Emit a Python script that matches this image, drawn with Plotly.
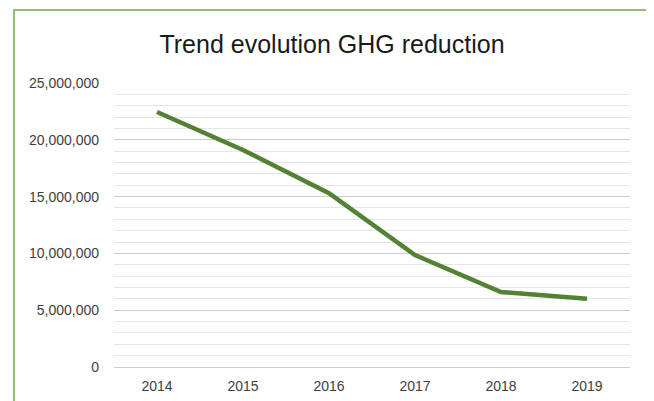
import plotly.graph_objects as go

years = ["2014", "2015", "2016", "2017", "2018", "2019"]
ghg_reduction = [22450000, 19100000, 15300000, 9850000, 6600000, 6000000]
y_ticks = [0, 5000000, 10000000, 15000000, 20000000, 25000000]
y_tick_labels = ["0", "5,000,000", "10,000,000", "15,000,000", "20,000,000", "25,000,000"]

fig = go.Figure()
fig.add_trace(go.Scatter(
    x=years, y=ghg_reduction, mode="lines",
    line=dict(color="#548235", width=4.5, shape="linear"),
    hoverinfo="x+y", showlegend=False,
))

font_family = "Liberation Sans, Arial, sans-serif"

# page body has an 8px default margin; the figure is sized to fill the rest of the window
W, H = 646, 393
fig.update_layout(
    width=W, height=H,
    margin=dict(l=106, r=24, t=75, b=34, autoexpand=False),
    paper_bgcolor="white", plot_bgcolor="white",
    title=dict(text="Trend evolution GHG reduction", x=(332-8)/W, xanchor="center",
               y=1-(44-8)/H, yanchor="middle",
               font=dict(family=font_family, size=25, color="#1a1a1a")),
    xaxis=dict(type="category", range=[-0.5, 5.5], showgrid=False, zeroline=False,
               showline=False, ticks="", ticklabelstandoff=9, automargin=False,
               tickfont=dict(family=font_family, size=14, color="#404040")),
    yaxis=dict(range=[0, 25000000], tickvals=y_ticks, ticktext=y_tick_labels,
               showgrid=True, gridcolor="#cccccc", gridwidth=1,
               zeroline=True, zerolinecolor="#cccccc", zerolinewidth=1,
               showline=False, ticks="", ticklabelstandoff=14, automargin=False,
               tickfont=dict(family=font_family, size=14, color="#404040"),
               minor=dict(dtick=1000000, showgrid=True, gridcolor="#e6e6e6", gridwidth=1)),
    shapes=[dict(type="rect", xref="paper", yref="paper",
                 x0=(14-114)/516, x1=(649-114)/516,
                 y0=(367-404)/284, y1=(367-10)/284,
                 line=dict(color="#70ad47", width=1.5), fillcolor="rgba(0,0,0,0)", layer="above")],
)

fig.write_html("out.html")
